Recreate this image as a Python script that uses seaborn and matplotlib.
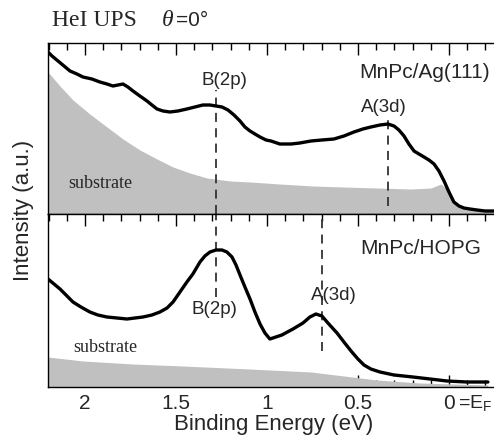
import numpy as np
import pandas as pd
import matplotlib
matplotlib.use("Agg")
import matplotlib.pyplot as plt
from matplotlib.ticker import MultipleLocator, FixedLocator
import seaborn as sns

# ---- data ----
ag_energy = [2.203, 2.181, 2.148, 2.115, 2.082, 2.044, 2.011, 1.962, 1.918, 1.879,
             1.846, 1.819, 1.791, 1.764, 1.736, 1.698, 1.659, 1.632, 1.604, 1.571,
             1.533, 1.489, 1.440, 1.396, 1.352, 1.313, 1.280, 1.247, 1.214, 1.181,
             1.148, 1.121, 1.093, 1.066, 1.038, 1.005, 0.978, 0.929, 0.868, 0.819,
             0.758, 0.698, 0.632, 0.577, 0.522, 0.473, 0.429, 0.379, 0.335, 0.302,
             0.275, 0.247, 0.220, 0.192, 0.165, 0.137, 0.110, 0.082, 0.055, 0.027,
             0.000, -0.027, -0.055, -0.082, -0.115, -0.154, -0.198, -0.247]
ag_intensity = [162, 158, 153, 148, 143, 140, 137, 135, 132, 130,
                128, 129, 130, 127, 123, 118, 113, 109, 105, 103,
                102, 103, 105, 107, 109, 109, 108, 107, 104, 99,
                93, 87, 83, 80, 77, 74, 73, 70, 70, 71,
                73, 74, 75, 78, 82, 85, 87, 89, 90, 88,
                84, 78, 70, 63, 60, 57, 54, 50, 43, 33,
                22, 12, 8, 6, 5, 4, 3, 3]

ag_sub_energy = [2.203, 2.137, 2.066, 1.973, 1.879, 1.791, 1.698, 1.604, 1.516, 1.423,
                 1.330, 1.200, 1.093, 0.929, 0.747, 0.577, 0.396, 0.209, 0.099, 0.044,
                 0.011, -0.027, -0.066, -0.154, -0.247]
ag_sub_intensity = [142, 128, 114, 100, 87, 75, 64, 55, 47, 41,
                    36, 33, 32, 30, 28, 27, 26, 25, 26, 30,
                    25, 12, 7, 4, 3]

hopg_energy = [2.203, 2.170, 2.137, 2.104, 2.066, 2.022, 1.973, 1.929, 1.879, 1.824,
               1.769, 1.725, 1.681, 1.632, 1.588, 1.549, 1.516, 1.478, 1.440, 1.407,
               1.368, 1.341, 1.313, 1.280, 1.247, 1.220, 1.192, 1.170, 1.148, 1.121,
               1.093, 1.066, 1.038, 1.011, 0.984, 0.951, 0.918, 0.857, 0.802, 0.764,
               0.731, 0.698, 0.665, 0.615, 0.577, 0.538, 0.500, 0.467, 0.429, 0.379,
               0.302, 0.198, 0.104, 0.011, -0.099, -0.214]
hopg_intensity = [108, 103, 98, 92, 85, 80, 75, 72, 70, 69,
                  68, 69, 70, 72, 75, 79, 85, 95, 105, 113,
                  125, 131, 135, 137, 137, 135, 130, 122, 112, 100,
                  88, 75, 63, 54, 48, 50, 52, 58, 64, 70,
                  73, 71, 64, 54, 45, 36, 28, 22, 18, 15,
                  12, 10, 8, 6, 5, 5]

hopg_sub_energy = [2.203, 2.011, 1.736, 1.462, 1.093, 0.758, 0.577, 0.396, 0.159, -0.214]
hopg_sub_intensity = [30, 26, 23, 21, 18, 15, 11, 7, 4, 2]

peak_B = 1.28
peak_A_ag = 0.335
peak_A_hopg = 0.698

tick_values = [2, 1.5, 1, 0.5, 0]
tick_labels = ["2", "1.5", "1", "0.5", "0"]

# ---- styling ----
sns.set_style("ticks")
plt.rcParams["font.family"] = ["Liberation Sans", "DejaVu Sans"]
plt.rcParams["axes.linewidth"] = 1.0

W, H = 494, 439
fig = plt.figure(figsize=(W / 100, H / 100), dpi=100)
left = 48 / W
width = (499 - 48) / W
ax1 = fig.add_axes([left, 1 - 215 / H, width, 171 / H])
ax2 = fig.add_axes([left, 1 - 388 / H, width, 173 / H])

fill_col = "#c0c0c0"
for ax, e, y, se, sy, ylim in [
    (ax1, ag_energy, ag_intensity, ag_sub_energy, ag_sub_intensity, 171),
    (ax2, hopg_energy, hopg_intensity, hopg_sub_energy, hopg_sub_intensity, 173),
]:
    ax.fill_between(se, 0, sy, color=fill_col, lw=0, zorder=1)
    df = pd.DataFrame({"E": e, "I": y})
    sns.lineplot(data=df, x="E", y="I", ax=ax, color="black", lw=2.4, zorder=3,
                 solid_joinstyle="round", solid_capstyle="round")
    ax.set_xlim(2.203, -0.275)
    ax.set_ylim(0, ylim)
    ax.set_yticks([])
    ax.set_ylabel("")
    ax.set_xlabel("")
    ax.xaxis.set_major_locator(FixedLocator(tick_values))
    ax.xaxis.set_minor_locator(MultipleLocator(0.1))
    ax.tick_params(axis="x", which="major", direction="in", length=8.5, width=1.0,
                   top=True, color="black")
    ax.tick_params(axis="x", which="minor", direction="in", length=5, width=1.0,
                   top=True, color="black")
    for s in ax.spines.values():
        s.set_color("black")
        s.set_linewidth(1.0)

ax1.tick_params(axis="x", which="both", bottom=False, labelbottom=False)
ax2.set_xticklabels(tick_labels, fontsize=15)
ax2.tick_params(axis="x", which="major", pad=4)
ax2.set_xlabel("Binding Energy (eV)", fontsize=16, labelpad=1)

dash = dict(color="#333333", lw=1.3, ls=(0, (5, 3.5)), zorder=2)
ax1.plot([peak_B, peak_B], [0, 124], **dash)
ax1.plot([peak_A_ag, peak_A_ag], [8, 100], **dash)
ax2.plot([peak_B, peak_B], [90, 173], **dash)
ax2.plot([peak_A_hopg, peak_A_hopg], [36, 173], **dash)

ax1.text(1.236, 135, "B(2p)", fontsize=13.5, ha="center", va="center")
ax1.text(0.357, 108, "A(3d)", fontsize=13.5, ha="center", va="center")
ax1.text(0.495, 143, "MnPc/Ag(111)", fontsize=15, ha="left", va="center")
ax1.text(2.093, 31, "substrate", fontsize=13, ha="left", va="center",
         family="Liberation Serif")

ax2.text(1.286, 79, "B(2p)", fontsize=13.5, ha="center", va="center")
ax2.text(0.632, 93, "A(3d)", fontsize=13.5, ha="center", va="center")
ax2.text(0.489, 139, "MnPc/HOPG", fontsize=15, ha="left", va="center")
ax2.text(2.066, 40, "substrate", fontsize=13, ha="left", va="center",
         family="Liberation Serif")

fig.text(458 / W, 1 - 404 / H, "=E$_\\mathregular{F}$", fontsize=14, ha="left", va="center")
fig.text(24 / W, 1 - 210 / H, "Intensity (a.u.)", fontsize=16, rotation=90,
         ha="center", va="center")
fig.text(52 / W, 1 - 20 / H, "HeI UPS", fontsize=17, family="Liberation Serif",
         ha="left", va="center")
fig.text(162 / W, 1 - 20 / H, "θ", fontsize=17, family="Liberation Serif",
         style="italic", ha="left", va="center")
fig.text(176 / W, 1 - 20 / H, "=0°", fontsize=15, ha="left", va="center")

fig.savefig("out.png", dpi=100)
